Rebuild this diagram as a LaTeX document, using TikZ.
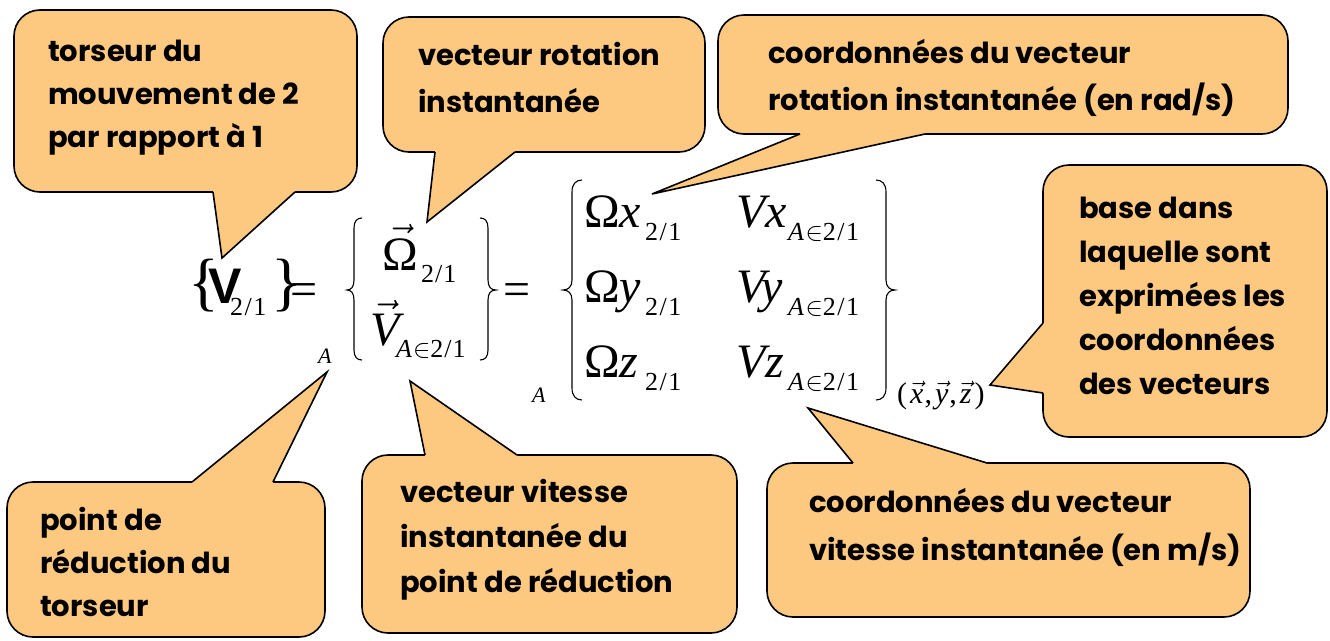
\RequirePackage{fix-cm}
\documentclass[tikz,border=0pt]{standalone}
\usepackage{fontspec}
\newfontfamily\tnr{Liberation Serif}
\newfontfamily\arl{Liberation Sans}
\newfontfamily\cf{Poppins}
\definecolor{calloutfill}{RGB}{253,200,128}
\newcommand\tv[1]{$\vec{\hbox{\itshape #1}}$}
\tikzset{
  callout/.style={fill=calloutfill, draw=black, line width=1.6pt, rounded corners=26pt},
  tailline/.style={draw=black, line width=1.6pt, line join=miter},
  ctext/.style={anchor=base west, inner sep=0pt, font=\cf\bfseries\fontsize{29}{29}\selectfont},
  mtxt/.style={anchor=base west, inner sep=0pt, font=\tnr\fontsize{48}{48}\selectfont},
  stxt/.style={anchor=base west, inner sep=0pt, font=\tnr\fontsize{26}{26}\selectfont},
  atxt/.style={anchor=base west, inner sep=0pt, font=\tnr\itshape\fontsize{22}{22}\selectfont},
  bigbr/.style={anchor=base west, inner sep=0pt, font=\tnr\fontsize{64}{64}\selectfont},
  brace/.style={draw=black, line width=1.1pt},
}
\begin{document}
\begin{tikzpicture}[x=1pt,y=-1pt]
\useasboundingbox (0,0) rectangle (1330,640);
\fill[white] (0,0) rectangle (1330,640);

% ---------- callout 1
\coordinate (t1) at (222,258);
\draw[callout] (14,10) rectangle (357,192);
\fill[calloutfill] (213,187) -- (213,192) -- (t1) -- (295,192) -- (295,187) -- cycle;
\draw[tailline] (213,192) -- (t1) -- (295,192);
\node[ctext] (c1a) at (48,61) {torseur du};
\node[ctext] (c1b) at (48,104) {mouvement de 2};
\node[ctext] (c1c) at (48,147) {par rapport à 1};

% ---------- callout 2
\coordinate (t2) at (427,222);
\draw[callout] (383,17) rectangle (705,152);
\fill[calloutfill] (435,147) -- (435,152) -- (t2) -- (515,152) -- (515,147) -- cycle;
\draw[tailline] (435,152) -- (t2) -- (515,152);
\node[ctext] (c2a) at (418,65) {vecteur rotation};
\node[ctext] (c2b) at (418,112) {instantanée};

% ---------- callout 3
\coordinate (t3) at (652,194);
\draw[callout] (718,15) rectangle (1288,134);
\fill[calloutfill] (800,129) -- (800,134) -- (t3) -- (925,134) -- (925,129) -- cycle;
\draw[tailline] (800,134) -- (t3) -- (925,134);
\node[ctext] (c3a) at (768,63) {coordonnées du vecteur};
\node[ctext] (c3b) at (768,110) {rotation instantanée (en rad/s)};

% ---------- callout 4
\coordinate (t4) at (990,385);
\draw[callout] (1043,165) rectangle (1327,437);
\fill[calloutfill] (1048,323) -- (1043,323) -- (t4) -- (1043,393) -- (1048,393) -- cycle;
\draw[tailline] (1043,323) -- (t4) -- (1043,393);
\node[ctext] (c4a) at (1079,218) {base dans};
\node[ctext] (c4b) at (1079,262) {laquelle sont};
\node[ctext] (c4c) at (1079,306) {exprimées les};
\node[ctext] (c4d) at (1079,350) {coordonnées};
\node[ctext] (c4e) at (1079,394) {des vecteurs};

% ---------- callout 5
\coordinate (t5) at (808,408);
\draw[callout] (767,463) rectangle (1250,617);
\fill[calloutfill] (853,468) -- (853,463) -- (t5) -- (987,463) -- (987,468) -- cycle;
\draw[tailline] (853,463) -- (t5) -- (987,463);
\node[ctext] (c5a) at (809,512) {coordonnées du vecteur};
\node[ctext] (c5b) at (809,560) {vitesse instantanée (en m/s)};

% ---------- callout 6
\coordinate (t6) at (327,372);
\draw[callout] (7,482) rectangle (325,637);
\fill[calloutfill] (192,487) -- (192,482) -- (t6) -- (273,482) -- (273,487) -- cycle;
\draw[tailline] (192,482) -- (t6) -- (273,482);
\node[ctext] (c6a) at (40,530) {point de};
\node[ctext] (c6b) at (40,573) {réduction du};
\node[ctext] (c6c) at (40,616) {torseur};

% ---------- callout 7
\coordinate (t7) at (410,381);
\draw[callout] (362,455) rectangle (737,633);
\fill[calloutfill] (425,460) -- (425,455) -- (t7) -- (517,455) -- (517,460) -- cycle;
\draw[tailline] (425,455) -- (t7) -- (517,455);
\node[ctext] (c7a) at (400,502) {vecteur vitesse};
\node[ctext] (c7b) at (400,547) {instantanée du};
\node[ctext] (c7c) at (400,592) {point de réduction};

% ---------- torseur {V_2/1}
\node[bigbr] (b1l) at (188,303) {\{};
\node[anchor=base west, inner sep=0pt, font=\arl\bfseries\fontsize{50}{50}\selectfont] (Vb) at (208,303) {V};
\node[stxt] (Vb21) at (230,315) {2\kern1.5pt/\kern1.5pt1};
\node[bigbr] (b1r) at (271,303) {\}};
\node[mtxt] (eq1) at (290,305) {=};
\node[atxt] (A1) at (318,363) {A};

% ---------- second brace
\draw[brace] (362,218) .. controls (357,218) and (354,221) .. (354,228) -- (354,280)
  .. controls (354,287) and (351,290) .. (347,290) .. controls (351,290) and (354,293) .. (354,300)
  -- (354,350) .. controls (354,357) and (357,360) .. (362,360);
\node[mtxt] (Om) at (382,270) {$\vec{\hbox{Ω}}$};
\node[stxt] (Om21) at (421,282) {2\kern1pt/\kern1pt1};
\node[mtxt] (Vv) at (370,345) {$\vec{\hbox{\itshape V}}$};
\node[stxt] (VvA) at (396,357) {\itshape A\kern1pt$\in$\upshape 2\kern1pt/\kern1pt1};
\draw[brace] (480,218) .. controls (485,218) and (488,221) .. (488,228) -- (488,280)
  .. controls (488,287) and (491,290) .. (496,290) .. controls (491,290) and (488,293) .. (488,300)
  -- (488,350) .. controls (488,357) and (485,360) .. (480,360);
\node[mtxt] (eq2) at (503,305) {=};
\node[atxt] (A2) at (532,402) {A};

% ---------- third brace (coordinates)
\draw[brace] (582,180) .. controls (576,180) and (572,184) .. (572,192) -- (572,280)
  .. controls (572,287) and (568,290) .. (563,290) .. controls (568,290) and (572,293) .. (572,300)
  -- (572,388) .. controls (572,396) and (576,400) .. (582,400);
\node[mtxt] (ox) at (584,227) {Ω\itshape x};
\node[stxt] (ox21) at (645,240) {2\kern1.5pt/\kern1.5pt1};
\node[mtxt] (oy) at (584,302) {Ω\itshape y};
\node[stxt] (oy21) at (645,315) {2\kern1.5pt/\kern1.5pt1};
\node[mtxt] (oz) at (584,377) {Ω\itshape z};
\node[stxt] (oz21) at (645,390) {2\kern1.5pt/\kern1.5pt1};
\node[mtxt] (vx) at (736,227) {\itshape Vx};
\node[stxt] (vxA) at (788,240) {\itshape A\kern1.5pt$\in$\upshape 2\kern1.5pt/\kern1.5pt1};
\node[mtxt] (vy) at (736,302) {\itshape Vy};
\node[stxt] (vyA) at (788,315) {\itshape A\kern1.5pt$\in$\upshape 2\kern1.5pt/\kern1.5pt1};
\node[mtxt] (vz) at (736,377) {\itshape Vz};
\node[stxt] (vzA) at (788,390) {\itshape A\kern1.5pt$\in$\upshape 2\kern1.5pt/\kern1.5pt1};
\draw[brace] (876,180) .. controls (882,180) and (886,184) .. (886,192) -- (886,280)
  .. controls (886,287) and (890,290) .. (895,290) .. controls (890,290) and (886,293) .. (886,300)
  -- (886,388) .. controls (886,396) and (882,400) .. (876,400);
\node[anchor=base west, inner sep=0pt, font=\tnr\fontsize{30}{30}\selectfont] (xyz) at (897,403)
  {(\kern3pt\tv{x}\kern1pt,\kern3pt\tv{y}\kern1pt,\kern3pt\tv{z}\kern3pt)};
\end{tikzpicture}
\end{document}
